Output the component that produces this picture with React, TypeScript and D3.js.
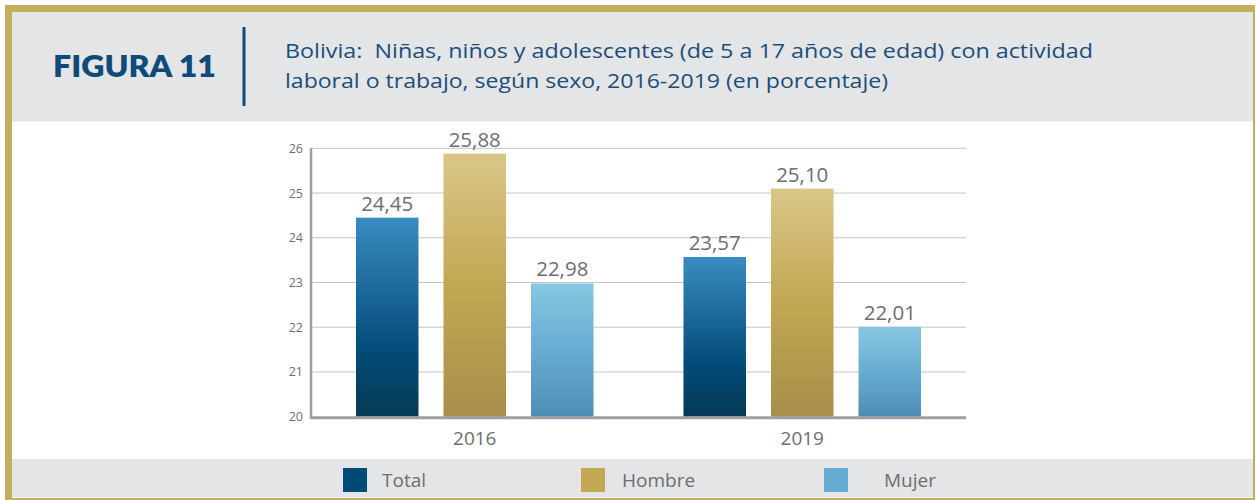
import React from "react";
import * as d3 from "d3";

const years = ["2016", "2019"];
const seriesKeys = ["Total", "Hombre", "Mujer"];
const totalValues = [24.45, 23.57];
const hombreValues = [25.88, 25.1];
const mujerValues = [22.98, 22.01];
const yTicks = [20, 21, 22, 23, 24, 25, 26];
const titleLines = [
  "Bolivia:  Niñas, niños y adolescentes (de 5 a 17 años de edad) con actividad",
  "laboral o trabajo, según sexo, 2016-2019 (en porcentaje)",
];

const W = 1256;
const H = 500;
const FONT = "'Open Sans', Lato, sans-serif";
const plot = { left: 311, right: 966, top: 148.3, bottom: 416.7 };

const gradients: Record<string, [string, string][]> = {
  Total: [["0%", "#3a8cc0"], ["68%", "#024a78"], ["100%", "#063a55"]],
  Hombre: [["0%", "#d9c688"], ["50%", "#c2a752"], ["100%", "#a88e4a"]],
  Mujer: [["0%", "#87c7e2"], ["50%", "#68acd2"], ["100%", "#4e8db3"]],
};
const legendColors: Record<string, string> = {
  Total: "#004a78",
  Hombre: "#c4a850",
  Mujer: "#63abd1",
};

const fmt = (v: number) => v.toFixed(2).replace(".", ",");

export default function App() {
  const y = d3.scaleLinear().domain([20, 26]).range([plot.bottom, plot.top]);
  const x0 = d3.scaleBand().domain(years).range([plot.left, plot.right]).padding(0);
  const x1 = d3
    .scaleBand()
    .domain(seriesKeys)
    .range([0, x0.bandwidth()])
    .paddingInner(0.2857)
    .paddingOuter(0.514);

  const valuesByKey: Record<string, number[]> = {
    Total: totalValues,
    Hombre: hombreValues,
    Mujer: mujerValues,
  };

  const legendItems = [
    { key: "Total", sq: 343, tx: 382 },
    { key: "Hombre", sq: 581, tx: 622 },
    { key: "Mujer", sq: 824, tx: 884 },
  ];
  const titleWidths = [808, 603];

  return (
    <svg
      width={W}
      height={H}
      style={{ position: "absolute", left: 0, top: 0 }}
      fontFamily={FONT}
    >
      <defs>
        {seriesKeys.map((k) => (
          <linearGradient key={k} id={`g-${k}`} x1="0" y1="0" x2="0" y2="1">
            {gradients[k].map(([o, c]) => (
              <stop key={o} offset={o} stopColor={c} />
            ))}
          </linearGradient>
        ))}
      </defs>
      <rect x={0} y={0} width={W} height={H} fill="#ffffff" />
      {/* frame */}
      <rect x={5} y={5} width={1250} height={495} fill="#c6ad5b" />
      <rect x={12} y={12} width={1241} height={486} fill="#ffffff" />
      {/* header */}
      <rect x={12} y={12} width={1241} height={109.5} fill="#e4e5e7" />
      <text
        x={53}
        y={77}
        fontSize={31}
        fontWeight={800}
        fill="#0f4b79"
        fontFamily="Lato, sans-serif"
        textLength={163}
        lengthAdjust="spacingAndGlyphs"
      >
        FIGURA 11
      </text>
      <rect x={242.5} y={27} width={3} height={79} fill="#0f4b79" />
      {titleLines.map((t, i) => (
        <text
          key={i}
          x={285}
          y={58 + i * 30}
          fontSize={19.5}
          fill="#1a4e7b"
          style={{ whiteSpace: "pre" }}
          textLength={titleWidths[i]}
          lengthAdjust="spacingAndGlyphs"
        >
          {t}
        </text>
      ))}
      {/* gridlines */}
      {yTicks.map((t) => (
        <g key={t}>
          {t > 20 && (
            <line
              x1={plot.left}
              x2={plot.right}
              y1={y(t)}
              y2={y(t)}
              stroke="#c4c4c4"
              strokeWidth={1}
            />
          )}
          <text
            x={303}
            y={y(t) + 4.5}
            textAnchor="end"
            fontSize={12.5}
            fill="#6d6e70"
          >
            {t}
          </text>
        </g>
      ))}
      {/* bars */}
      {years.map((yr, i) => (
        <g key={yr} transform={`translate(${x0(yr)},0)`}>
          {seriesKeys.map((k) => {
            const v = valuesByKey[k][i];
            const bx = x1(k)!;
            return (
              <g key={k}>
                <rect
                  x={bx}
                  y={y(v)}
                  width={x1.bandwidth()}
                  height={y(20) - y(v)}
                  fill={`url(#g-${k})`}
                />
                <text
                  x={bx + x1.bandwidth() / 2}
                  y={y(v) - 7}
                  textAnchor="middle"
                  fontSize={20.5}
                  fill="#6d6e70"
                >
                  {fmt(v)}
                </text>
              </g>
            );
          })}
          <text
            x={x0.bandwidth() / 2}
            y={445}
            textAnchor="middle"
            fontSize={19}
            fill="#6d6e70"
          >
            {yr}
          </text>
        </g>
      ))}
      {/* axes */}
      <line x1={311} x2={311} y1={plot.top} y2={plot.bottom + 2} stroke="#9d9fa2" strokeWidth={2.5} />
      <line x1={310} x2={plot.right} y1={plot.bottom + 1} y2={plot.bottom + 1} stroke="#9d9fa2" strokeWidth={3} />
      {/* legend band */}
      <rect x={12} y={459} width={1241} height={38.5} fill="#e4e5e7" />
      {legendItems.map((it) => (
        <g key={it.key}>
          <rect x={it.sq} y={468} width={24} height={24} fill={legendColors[it.key]} />
          <text x={it.tx} y={487} fontSize={19} fill="#6d6e70">
            {it.key}
          </text>
        </g>
      ))}
    </svg>
  );
}
